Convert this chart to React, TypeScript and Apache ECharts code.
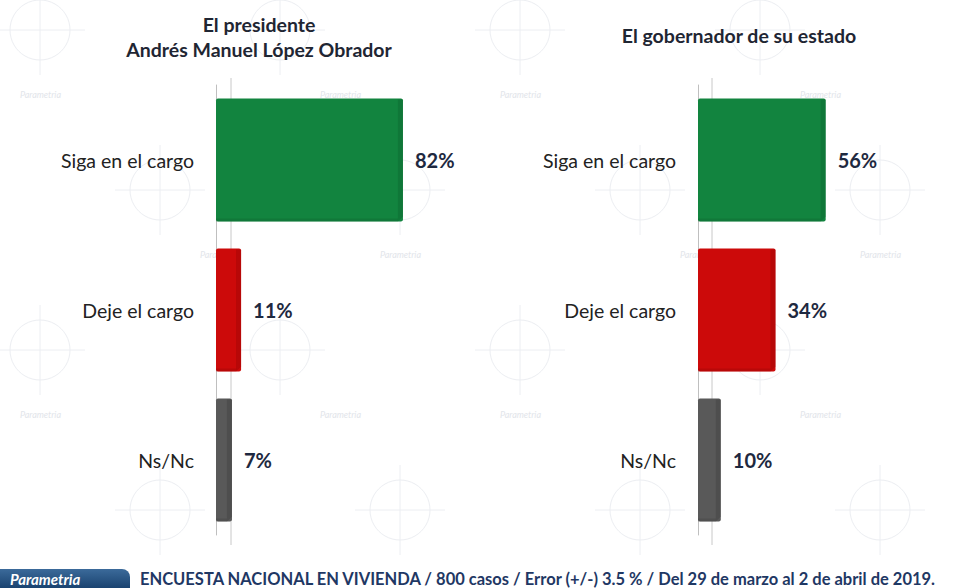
import React, { useEffect, useRef } from "react";
import * as echarts from "echarts";

const categories = ["Siga en el cargo", "Deje el cargo", "Ns/Nc"];
const presidentValues = [82, 11, 7];
const governorValues = [56, 34, 10];
const barColors = ["#12843f", "#cc0a0a", "#595959"];
const sideColors = ["#0c5e2c", "#8e0606", "#3a3a3a"];
const titleLeft = "El presidente\nAndrés Manuel López Obrador";
const titleRight = "El gobernador de su estado";
const footerText =
  "ENCUESTA NACIONAL EN VIVIENDA / 800 casos / Error (+/-) 3.5 % / Del 29 de marzo al 2 de abril de 2019.";
const logoText = "Parametria";

const FONT = "Lato, 'Open Sans', sans-serif";

function renderBar(params: any, api: any) {
  const val = api.value(0);
  const cat = api.value(1);
  const start = api.coord([0, cat]);
  const end = api.coord([val, cat]);
  const band = api.size([0, 1])[1];
  const h = band * 0.82;
  const x0 = start[0];
  const x1 = end[0];
  const yTop = start[1] - h / 2;
  const d = 5;
  const i = params.dataIndex;
  return {
    type: "group",
    children: [
      {
        type: "rect",
        shape: { x: x0, y: yTop, width: Math.max(x1 - x0, 1), height: h, r: 2 },
        style: { fill: barColors[i] },
      },
      {
        type: "polygon",
        shape: {
          points: [
            [x1 - d, yTop + 1],
            [x1, yTop + 1],
            [x1, yTop + h - d],
            [x1 - d, yTop + h],
          ],
        },
        style: { fill: sideColors[i], opacity: 0.35 },
      },
      {
        type: "rect",
        shape: { x: x0, y: yTop + h - 3, width: Math.max(x1 - x0 - d, 1), height: 3 },
        style: { fill: sideColors[i], opacity: 0.3 },
      },
      {
        type: "text",
        style: {
          x: x1 + 12,
          y: start[1],
          text: val + "%",
          fill: "#1e2940",
          font: `bold 20px ${FONT}`,
          verticalAlign: "middle",
          align: "left",
        },
      },
    ],
  };
}

function pattern() {
  const items: any[] = [];
  const c = "#eceef2";
  const cols = [40, 280, 520, 760];
  const rows = [30, 190, 350, 510];
  rows.forEach((y, ri) => {
    cols.forEach((x, ci) => {
      const ox = x + (ri % 2) * 120;
      items.push({
        type: "circle",
        shape: { cx: ox, cy: y, r: 30 },
        style: { fill: "none", stroke: c, lineWidth: 1 },
        silent: true,
      });
      items.push({
        type: "line",
        shape: { x1: ox - 45, y1: y, x2: ox + 45, y2: y },
        style: { stroke: c, lineWidth: 1 },
        silent: true,
      });
      items.push({
        type: "line",
        shape: { x1: ox, y1: y - 45, x2: ox, y2: y + 45 },
        style: { stroke: c, lineWidth: 1 },
        silent: true,
      });
      if (ri < 3) {
        items.push({
          type: "text",
          style: {
            x: ox - 20 + ((ci + ri) % 2) * 60,
            y: y + 60,
            text: "Parametria",
            fill: "#e2e5ea",
            font: `italic 9px ${FONT}`,
          },
          silent: true,
        });
      }
    });
  });
  return items;
}

function makeAxisY(gridIndex: number) {
  return {
    type: "category",
    gridIndex,
    data: categories,
    inverse: true,
    axisLine: { show: true, lineStyle: { color: "#bfbfbf", width: 1 } },
    axisTick: { show: false },
    axisLabel: {
      color: "#222222",
      fontFamily: FONT,
      fontSize: 19.5,
      margin: 22,
    },
    splitLine: { show: false },
  };
}

function makeAxisX(gridIndex: number) {
  return {
    type: "value",
    gridIndex,
    min: 0,
    max: 100,
    show: false,
  };
}

export default function App() {
  const ref = useRef<HTMLDivElement>(null);
  useEffect(() => {
    if (!ref.current) return;
    const chart = echarts.init(ref.current, undefined, { renderer: "svg" });
    chart.setOption({
      animation: false,
      backgroundColor: "#ffffff",
      grid: [
        { left: 216, top: 85, width: 228, height: 450 },
        { left: 698, top: 85, width: 228, height: 450 },
      ],
      xAxis: [makeAxisX(0), makeAxisX(1)],
      yAxis: [makeAxisY(0), makeAxisY(1)],
      title: [
        {
          text: titleLeft,
          left: 254,
          top: 7,
          textAlign: "center",
          textStyle: {
            fontFamily: FONT,
            fontSize: 19.5,
            fontWeight: "bold",
            color: "#1f2633",
            lineHeight: 25,
          },
        },
        {
          text: titleRight,
          left: 734,
          top: 20,
          textAlign: "center",
          textStyle: {
            fontFamily: FONT,
            fontSize: 19.5,
            fontWeight: "bold",
            color: "#1f2633",
          },
        },
      ],
      graphic: [
        ...pattern(),
        {
          type: "line",
          shape: { x1: 231, y1: 78, x2: 231, y2: 545 },
          style: { stroke: "#c8c8c8", lineWidth: 1 },
          z: -1,
        },
        {
          type: "line",
          shape: { x1: 712, y1: 78, x2: 712, y2: 545 },
          style: { stroke: "#c8c8c8", lineWidth: 1 },
          z: -1,
        },
        {
          type: "rect",
          shape: { x: 0, y: 569, width: 130, height: 19, r: [0, 8, 0, 0] },
          style: {
            fill: new echarts.graphic.LinearGradient(0, 0, 0, 1, [
              { offset: 0, color: "#3b6a9a" },
              { offset: 1, color: "#1a4370" },
            ]),
          },
        },
        {
          type: "text",
          style: {
            x: 10,
            y: 579,
            text: logoText,
            fill: "#ffffff",
            font: `italic bold 15px ${FONT}`,
            verticalAlign: "middle",
          },
        },
        {
          type: "text",
          style: {
            x: 140,
            y: 579,
            text: footerText,
            fill: "#1f3864",
            font: `bold 16.5px ${FONT}`,
            verticalAlign: "middle",
          },
        },
      ],
      series: [
        {
          type: "custom",
          xAxisIndex: 0,
          yAxisIndex: 0,
          renderItem: renderBar,
          encode: { x: 0, y: 1 },
          data: presidentValues.map((v, i) => [v, i]),
        },
        {
          type: "custom",
          xAxisIndex: 1,
          yAxisIndex: 1,
          renderItem: renderBar,
          encode: { x: 0, y: 1 },
          data: governorValues.map((v, i) => [v, i]),
        },
      ],
    });
    return () => chart.dispose();
  }, []);
  return (
    <div
      ref={ref}
      style={{ position: "fixed", left: 0, top: 0, width: 957, height: 588 }}
    />
  );
}
